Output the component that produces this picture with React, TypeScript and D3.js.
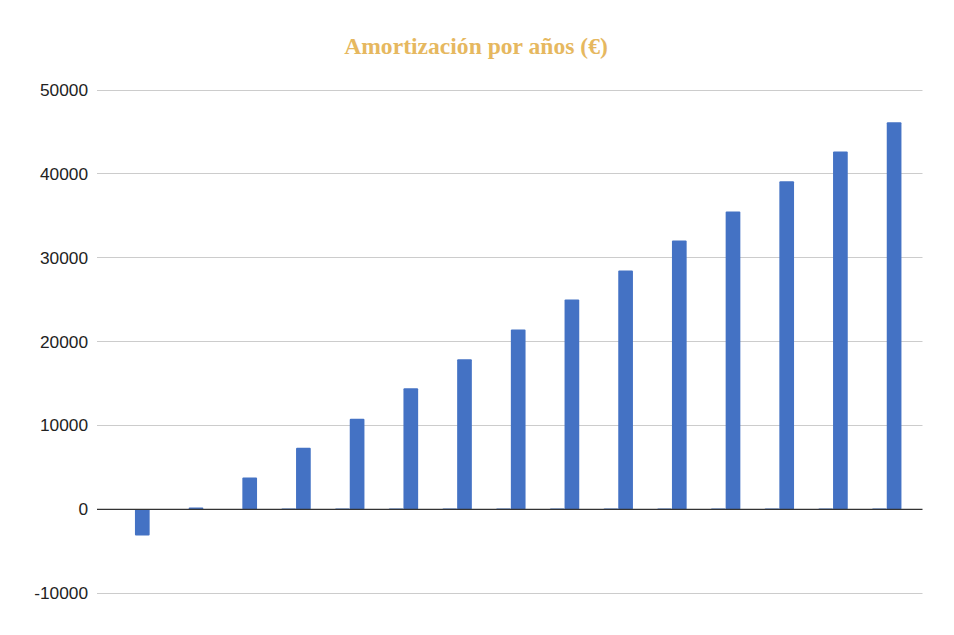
import React from "react";
import * as d3 from "d3";

const years = ["1", "2", "3", "4", "5", "6", "7", "8", "9", "10", "11", "12", "13", "14", "15"];
const smallSeries = [0, 0, 0, 120, 120, 120, 120, 120, 120, 120, 120, 120, 120, 120, 120];
const amortization = [-3100, 240, 3810, 7350, 10810, 14420, 17880, 21420, 24990, 28450, 32030, 35480, 39090, 42630, 46090];
const yTicks = [-10000, 0, 10000, 20000, 30000, 40000, 50000];
const title = "Amortización por años (€)";

const W = 954;
const H = 635;

export default function App() {
  const y = d3.scaleLinear().domain([-10000, 50000]).range([593.4, 89.5]);
  const x = d3.scaleBand<string>().domain(years).range([108.1, 913.6]).paddingInner(0).paddingOuter(0);
  const xs = d3.scaleBand<string>().domain(["small", "main"]).range([0, x.bandwidth()]).paddingInner(0).paddingOuter(0.827);
  const gridX0 = 97;
  const gridX1 = 922.5;

  const series = [
    { key: "small", values: smallSeries },
    { key: "main", values: amortization },
  ];

  return (
    <svg width={W} height={H} style={{ position: "absolute", left: 0, top: 0, background: "#fff" }}>
      <rect x={0} y={0} width={W} height={H} fill="#fff" />
      <text
        x={476}
        y={54.3}
        textAnchor="middle"
        fontFamily="'Liberation Serif', 'Times New Roman', serif"
        fontWeight="bold"
        fontSize={23.6}
        fill="#E6B85F"
      >
        {title}
      </text>
      {yTicks.map((t) => (
        <g key={t}>
          {t !== 0 && (
            <line x1={gridX0} x2={gridX1} y1={Math.round(y(t)) + 0.5} y2={Math.round(y(t)) + 0.5} stroke="#cccccc" strokeWidth={1} />
          )}
          <text
            x={88}
            y={y(t)}
            dy="0.35em"
            textAnchor="end"
            fontFamily="'Liberation Sans', Arial, sans-serif"
            fontSize={17.3}
            fill="#222"
          >
            {t}
          </text>
        </g>
      ))}
      {series.map((s) =>
        s.values.map((v, i) => {
          const bx = (x(years[i]) as number) + (xs(s.key) as number);
          const top = y(Math.max(0, v));
          const bottom = y(Math.min(0, v));
          const h = bottom - top;
          if (h <= 0) return null;
          return (
            <rect
              key={s.key + i}
              x={bx}
              y={top}
              width={xs.bandwidth()}
              height={h}
              fill="#4472C4"
              rx={1}
            />
          );
        })
      )}
      <line x1={gridX0} x2={gridX1} y1={y(0)} y2={y(0)} stroke="#333" strokeWidth={1.3} />
    </svg>
  );
}
